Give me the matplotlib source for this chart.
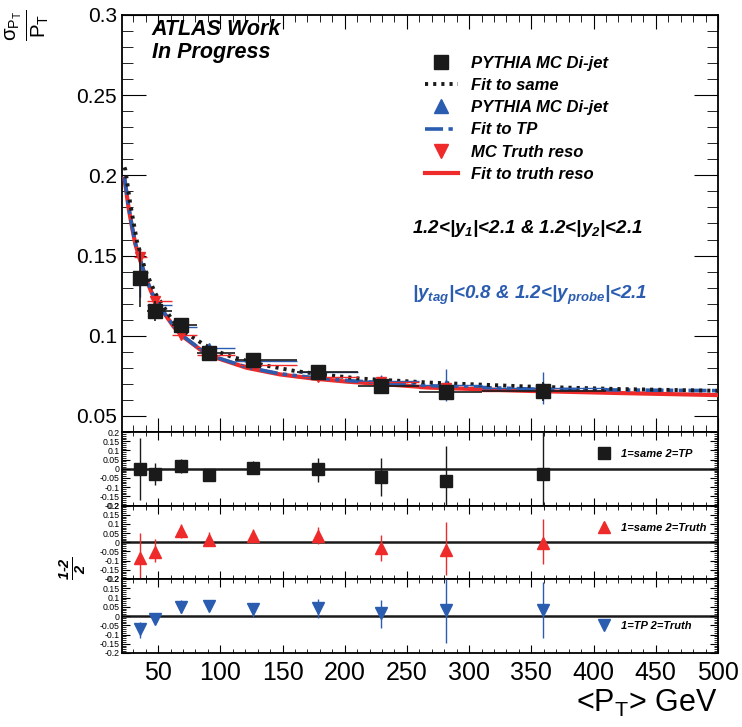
import matplotlib
matplotlib.use("Agg")
import matplotlib.pyplot as plt
from matplotlib.ticker import MultipleLocator, FormatStrFormatter
from matplotlib.lines import Line2D

plt.rcParams['font.family'] = ['Liberation Sans', 'DejaVu Sans']
plt.rcParams['axes.unicode_minus'] = False
plt.rcParams['mathtext.fontset'] = 'custom'
plt.rcParams['mathtext.rm'] = 'Liberation Sans:bold:italic'
plt.rcParams['mathtext.it'] = 'Liberation Sans:bold:italic'
plt.rcParams['mathtext.bf'] = 'Liberation Sans:bold:italic'
plt.rcParams['mathtext.sf'] = 'Liberation Sans'

# ---- data ----
pt = [35.7, 47.5, 68.5, 91, 126.5, 178.7, 229.5, 281.5, 359]
bin_lo = [31, 41, 61, 81, 112, 162, 211, 260, 310]
bin_hi = [41, 61, 81, 112, 162, 211, 260, 310, 410]

same = [0.136, 0.1154, 0.1068, 0.0895, 0.0846, 0.0772, 0.0685, 0.0648, 0.0654]
same_err = [0.018, 0.006, 0.003, 0.002, 0.002, 0.002, 0.004, 0.004, 0.006]
tp = [0.136, 0.119, 0.1054, 0.0925, 0.0843, 0.0775, 0.0718, 0.0695, 0.0674]
tp_err = [0.012, 0.005, 0.003, 0.002, 0.002, 0.002, 0.004, 0.010, 0.010]
truth = [0.149, 0.1216, 0.1005, 0.088, 0.082, 0.0745, 0.071, 0.0675, 0.0656]
truth_err = [0.005, 0.003, 0.002, 0.002, 0.001, 0.001, 0.002, 0.003, 0.003]

# fit curves, points
fit_same_x = [23, 23.7, 27.7, 33, 39.8, 47.8, 61.2, 70.5, 75.9, 86.1, 97.3, 109.4,
              134.8, 160.2, 185.7, 212.4, 268.7, 349, 420, 500]
fit_same_y = [0.205, 0.2035, 0.182, 0.159, 0.1407, 0.1264, 0.110, 0.1027, 0.100,
              0.0949, 0.0903, 0.0868, 0.0817, 0.078, 0.0755, 0.0733, 0.0708,
              0.0683, 0.0668, 0.0657]
fit_tp_x = [23, 26.3, 29.1, 31.7, 35.7, 39.8, 45.1, 53.2, 62.5, 70, 83.9, 94.6,
            121.4, 148, 175, 201.8, 228.5, 268.7, 349, 420, 500]
fit_tp_y = [0.199, 0.1805, 0.1682, 0.1578, 0.1474, 0.137, 0.1268, 0.1163, 0.106,
            0.0998, 0.0917, 0.0871, 0.0804, 0.0763, 0.0739, 0.0721, 0.0708,
            0.0688, 0.0668, 0.0662, 0.0658]
fit_truth_x = [23, 26.3, 29.1, 31.7, 35.7, 39.8, 45.1, 53.2, 62.5, 70, 83.9, 94.6,
               121.4, 148, 175, 201.8, 228.5, 268.7, 349, 420, 500]
fit_truth_y = [0.198, 0.1798, 0.1675, 0.1572, 0.1469, 0.1366, 0.1264, 0.116,
               0.1057, 0.0995, 0.0914, 0.0868, 0.080, 0.0759, 0.0733, 0.0714,
               0.0700, 0.0677, 0.0656, 0.0643, 0.063]

# ratio panels (1-2)/2
r_same_tp = [0.0, -0.03, 0.013, -0.033, 0.004, -0.004, -0.046, -0.068, -0.03]
r_same_tp_up = [0.168, 0.06, 0.04, 0.012, 0.036, 0.064, 0.106, 0.192, 0.23]
r_same_tp_dn = [0.172, 0.06, 0.036, 0.027, 0.034, 0.066, 0.104, 0.132, 0.17]

r_same_truth = [-0.085, -0.054, 0.063, 0.014, 0.032, 0.036, -0.034, -0.04, -0.003]
r_same_truth_up = [0.135, 0.069, 0.037, 0.042, 0.04, 0.049, 0.074, 0.15, 0.128]
r_same_truth_dn = [0.115, 0.056, 0.04, 0.034, 0.027, 0.045, 0.066, 0.14, 0.117]

r_tp_truth = [-0.07, -0.018, 0.05, 0.054, 0.036, 0.045, 0.015, 0.032, 0.032]
r_tp_truth_up = [0.04, 0.01, 0.035, 0.01, 0.034, 0.045, 0.071, 0.17, 0.15]
r_tp_truth_dn = [0.05, 0.01, 0.035, 0.01, 0.039, 0.055, 0.082, 0.18, 0.15]

BLACK = '#1a1a1a'
BLUE = '#2a5cb0'
RED = '#ee2a2a'

xerr = [[p - lo for p, lo in zip(pt, bin_lo)], [hi - p for p, hi in zip(pt, bin_hi)]]

fig = plt.figure(figsize=(7.42, 7.27), dpi=100)
L, W = 122 / 742, 596 / 742
def fy(px):
    return 1 - px / 727

ax = fig.add_axes([L, fy(432), W, fy(15) - fy(432)])
ax1 = fig.add_axes([L, fy(505.5), W, fy(432) - fy(505.5)], sharex=ax)
ax2 = fig.add_axes([L, fy(579), W, fy(505.5) - fy(579)], sharex=ax)
ax3 = fig.add_axes([L, fy(653), W, fy(579) - fy(653)], sharex=ax)

# ---- main panel ----
ax.errorbar(pt, same, yerr=same_err, xerr=xerr, fmt='s', color=BLACK,
            ms=10, elinewidth=1.2, capsize=0, zorder=5)
ax.errorbar(pt, tp, yerr=tp_err, xerr=xerr, fmt='^', color=BLUE,
            ms=7, elinewidth=1.0, capsize=0, zorder=4)
ax.errorbar(pt, truth, yerr=truth_err, xerr=xerr, fmt='v', color=RED,
            ms=7, elinewidth=1.0, capsize=0, zorder=4)
l_truth, = ax.plot(fit_truth_x, fit_truth_y, '-', color=RED, lw=3, zorder=3)
l_tp, = ax.plot(fit_tp_x, fit_tp_y, color=BLUE, lw=2.6, zorder=3,
                dashes=(5, 1.5, 1.2, 1.5, 1.2, 1.5))
l_same, = ax.plot(fit_same_x, fit_same_y, color=BLACK, lw=2.8, zorder=3,
                  dashes=(0.8, 1.3))

ax.set_xlim(21, 500)
ax.set_ylim(0.04, 0.3)
ax.yaxis.set_major_locator(MultipleLocator(0.05))
ax.yaxis.set_minor_locator(MultipleLocator(0.01))
ax.xaxis.set_major_locator(MultipleLocator(50))
ax.xaxis.set_minor_locator(MultipleLocator(10))
ax.tick_params(axis='both', which='both', direction='in', top=True, right=True,
               labelbottom=False)
ax.tick_params(axis='y', which='major', length=17, labelsize=15)
ax.tick_params(axis='y', which='minor', length=8)
ax.tick_params(axis='x', which='major', length=10)
ax.tick_params(axis='x', which='minor', length=5)
ax.yaxis.set_major_formatter(FormatStrFormatter('%g'))

bi = dict(weight='bold', style='italic')
m_same = Line2D([], [], marker='s', ls='none', color=BLACK, ms=10)
m_tp = Line2D([], [], marker='^', ls='none', color=BLUE, ms=10)
m_truth = Line2D([], [], marker='v', ls='none', color=RED, ms=10)
ax.legend([m_same, l_same, m_tp, l_tp, m_truth, l_truth],
          ['PYTHIA MC Di-jet', 'Fit to same', 'PYTHIA MC Di-jet',
           'Fit to TP', 'MC Truth reso', 'Fit to truth reso'],
          loc='upper left', bbox_to_anchor=(0.508, 0.902), frameon=False,
          prop=dict(family='Liberation Sans', size=12, **bi),
          handlelength=2.0, handletextpad=0.8, labelspacing=0.43,
          borderpad=0, borderaxespad=0)

ax.text(0.05, 0.99, 'ATLAS Work\nIn Progress', transform=ax.transAxes,
        fontsize=15.5, va='top', ha='left', linespacing=1.12, **bi)
ax.text(0.486, 0.489, r'1.2<|y$_{1}$|<2.1 & 1.2<|y$_{2}$|<2.1',
        transform=ax.transAxes, fontsize=13.5, va='center', ha='left', **bi)
ax.text(0.486, 0.3285, r'|y$_{tag}$|<0.8 & 1.2<|y$_{probe}$|<2.1',
        transform=ax.transAxes, fontsize=13.5, va='center', ha='left',
        color=BLUE, **bi)

fig.text(27 / 742, fy(25), r'$\frac{\mathsf{\sigma}_{\mathsf{P_T}}}{\mathsf{P_T}}$',
         rotation=90, fontsize=21, ha='center', va='center')

# ---- ratio panels ----
panels = [
    (ax1, r_same_tp, r_same_tp_dn, r_same_tp_up, 's', BLACK, 8.5, '1=same 2=TP', 0.70),
    (ax2, r_same_truth, r_same_truth_dn, r_same_truth_up, '^', RED, 8, '1=same 2=Truth', 0.69),
    (ax3, r_tp_truth, r_tp_truth_dn, r_tp_truth_up, 'v', BLUE, 8, '1=TP 2=Truth', 0.37),
]
for a, vals, dn, up, mk, col, ms, lab, ly in panels:
    a.axhline(0, color=BLACK, lw=1.8, zorder=1)
    a.errorbar(pt, vals, yerr=[dn, up], fmt=mk, color=col, ms=ms,
               elinewidth=1.0, capsize=0, zorder=3)
    a.set_ylim(-0.2, 0.2)
    a.yaxis.set_major_locator(MultipleLocator(0.05))
    a.yaxis.set_minor_locator(MultipleLocator(0.01))
    a.yaxis.set_major_formatter(FormatStrFormatter('%g'))
    a.tick_params(axis='both', which='both', direction='in', top=True, right=True,
                  labelbottom=False)
    a.tick_params(axis='y', which='major', length=6, labelsize=6.3, pad=1.5)
    a.tick_params(axis='y', which='minor', length=3)
    a.tick_params(axis='x', which='major', length=6)
    a.tick_params(axis='x', which='minor', length=3)
    hm = Line2D([], [], marker=mk, ls='none', color=col, ms=8)
    a.legend([hm], [lab], loc='center left', bbox_to_anchor=(0.80, ly),
             frameon=False, prop=dict(family='Liberation Sans', size=8, **bi),
             handlelength=1.0, handletextpad=1.0, borderpad=0, borderaxespad=0)

ax3.tick_params(axis='x', labelbottom=True, labelsize=18, pad=6)
ax3.set_xlabel(r'<P$_{\mathsf{T}}$> GeV', fontsize=22, loc='right', labelpad=2)

fig.text(73 / 742, fy(568), r'$\frac{1\text{-}2}{2}$', rotation=90, fontsize=15,
         ha='center', va='center')

for a in (ax, ax1, ax2, ax3):
    for s in a.spines.values():
        s.set_linewidth(1.3)

fig.savefig('out.png', dpi=100)
